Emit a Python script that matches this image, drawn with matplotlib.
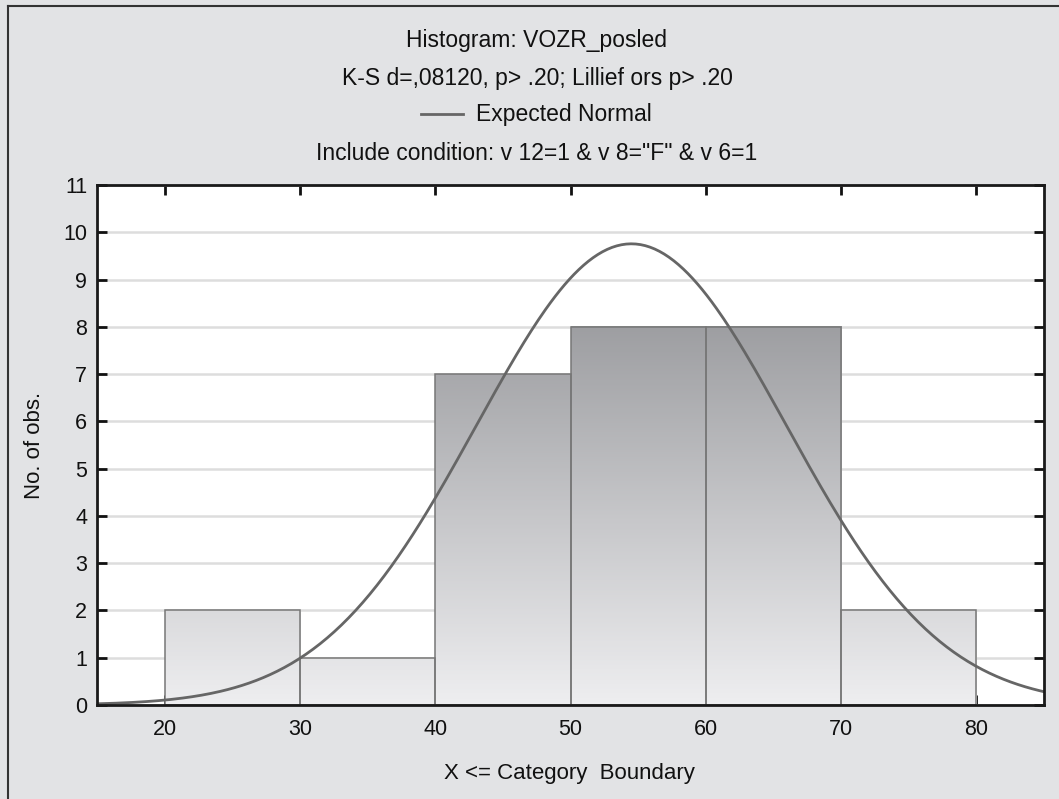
import numpy as np
import matplotlib.pyplot as plt
from matplotlib.colors import LinearSegmentedColormap
from matplotlib.patches import Rectangle
from matplotlib.lines import Line2D

# данные гистограммы
bin_edges = [20, 30, 40, 50, 60, 70, 80]
counts = [2, 1, 7, 8, 8, 2]
mean_val = 54.5
sd_val = 11.45

title_1 = "Histogram: VOZR_posled"
title_2 = "K-S d=,08120, p> .20; Lillief ors p> .20"
legend_label = "Expected Normal"
condition = 'Include condition: v 12=1 & v 8="F" & v 6=1'
xlabel = "X <= Category  Boundary"
ylabel = "No. of obs."

plt.rcParams['font.family'] = ['Liberation Sans', 'DejaVu Sans']

fig = plt.figure(figsize=(10.59, 7.99), dpi=100)
fig.patch.set_facecolor('#e2e3e5')
W, H = 1059, 799
ax = fig.add_axes([97 / W, 1 - 705 / H, (1044 - 97) / W, (705 - 185) / H])
ax.set_facecolor('white')

# рамка слева и сверху
fig.add_artist(Line2D([8 / W, 8 / W], [0, 1 - 6 / H], transform=fig.transFigure,
                      color='#333333', lw=1.5))
fig.add_artist(Line2D([8 / W, 1], [1 - 6 / H, 1 - 6 / H], transform=fig.transFigure,
                      color='#333333', lw=1.5))

ymax = 11
cmap = LinearSegmentedColormap.from_list('bars', ['#eeeef0', '#808185'])

for i in range(len(counts)):
    left, right = bin_edges[i], bin_edges[i + 1]
    h = counts[i]
    grad = np.linspace(0, h, 200).reshape(-1, 1)
    ax.imshow(grad, extent=(left, right, 0, h), origin='lower', cmap=cmap,
              vmin=0, vmax=ymax, aspect='auto', zorder=2)
    ax.add_patch(Rectangle((left, 0), right - left, h, facecolor='none',
                           edgecolor='#777777', lw=1.1, zorder=3))

# ожидаемая нормальная кривая
width = bin_edges[1] - bin_edges[0]
n_obs = sum(counts)
xs = np.linspace(15, 85, 400)
ys = n_obs * width / (sd_val * np.sqrt(2 * np.pi)) * np.exp(-(xs - mean_val) ** 2 / (2 * sd_val ** 2))
ax.plot(xs, ys, color='#666666', lw=2, zorder=4)

ax.set_xlim(15, 85)
ax.set_ylim(0, ymax)
ax.set_xticks(range(20, 81, 10))
ax.set_yticks(range(0, 12))
ax.grid(axis='y', color='#dddddd', lw=1.8, zorder=0)
ax.set_axisbelow(True)
ax.tick_params(direction='in', length=7, width=2, top=True, right=True,
               labelsize=15.5, colors='#111111')
ax.tick_params(axis='x', pad=10)
ax.tick_params(axis='y', pad=7)
for s in ax.spines.values():
    s.set_linewidth(2)
    s.set_color('#1a1a1a')
    s.set_zorder(5)

# подписи осей
fig.text(569 / W, 1 - 773 / H, xlabel, ha='center', va='center', fontsize=16, color='#111111')
fig.text(35 / W, 1 - 445 / H, ylabel, ha='center', va='center', rotation=90,
         fontsize=16, color='#111111')

# заголовок
fig.text(537 / W, 1 - 46.5 / H, title_1, ha='center', va='baseline', fontsize=16.5, color='#111111')
fig.text(537 / W, 1 - 85 / H, title_2, ha='center', va='baseline', fontsize=16.5, color='#111111')
fig.add_artist(Line2D([421 / W, 463 / W], [1 - 114 / H, 1 - 114 / H], transform=fig.transFigure,
                      color='#666666', lw=2))
fig.text(476 / W, 1 - 121.5 / H, legend_label, ha='left', va='baseline', fontsize=16.5, color='#111111')
fig.text(537 / W, 1 - 160 / H, condition, ha='center', va='baseline', fontsize=16.5, color='#111111')

fig.savefig('out.png', dpi=100, facecolor=fig.get_facecolor())
